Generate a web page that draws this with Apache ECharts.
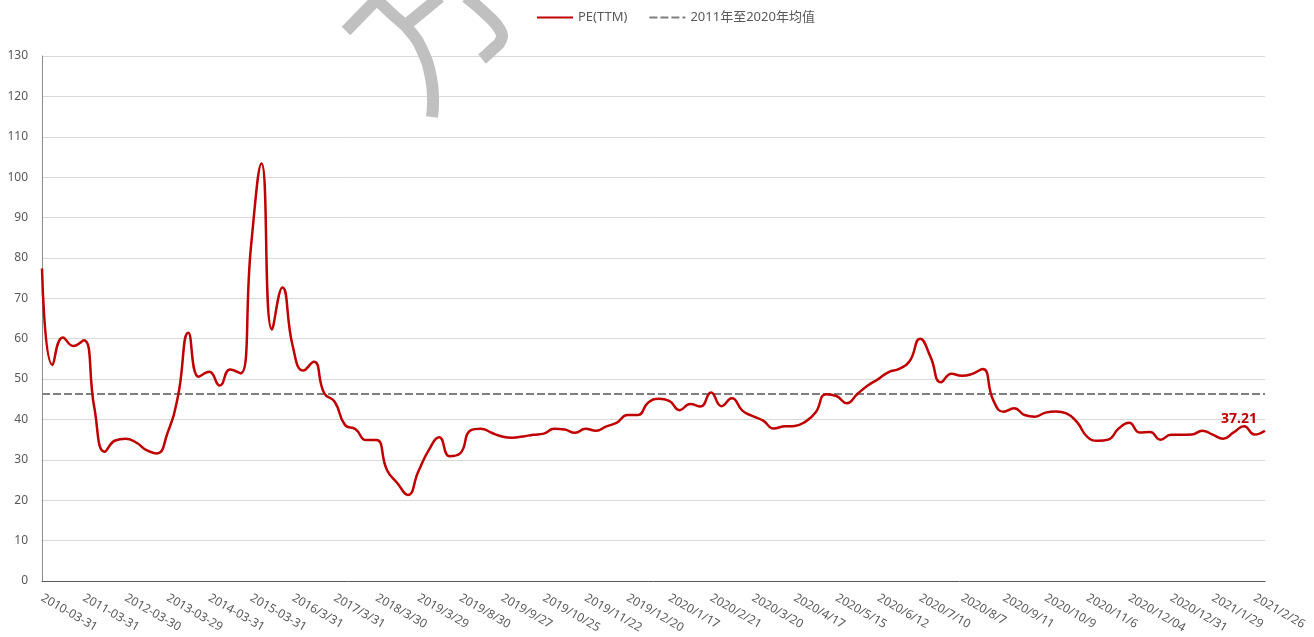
<!DOCTYPE html>
<html>
<head>
<meta charset="utf-8">
<script src="https://cdn.jsdelivr.net/npm/echarts@6/dist/echarts.min.js"></script>
<style>
html,body{margin:0;padding:0;background:#fff;}
#chart{width:1314px;height:637px;}
</style>
</head>
<body>
<div id="chart"></div>
<script>
const tickLabels = ['2010-03-31','2011-03-31','2012-03-30','2013-03-29','2014-03-31','2015-03-31','2016/3/31','2017/3/31','2018/3/30','2019/3/29','2019/8/30','2019/9/27','2019/10/25','2019/11/22','2019/12/20','2020/1/17','2020/2/21','2020/3/20','2020/4/17','2020/5/15','2020/6/12','2020/7/10','2020/8/7','2020/9/11','2020/10/9','2020/11/6','2020/12/04','2020/12/31','2021/1/29','2021/2/26'];

const peValues = [
77.4,53.5,60.3,58.2,59.6,43.0,32.0,34.8,35.2,34.3,
32.4,31.6,36.6,45.6,61.5,50.6,51.8,48.4,52.4,51.4,
83.0,103.4,62.3,72.7,58.0,52.1,54.3,46.5,44.4,38.6,
37.6,34.9,34.9,27.5,24.2,21.3,27.1,32.4,35.6,30.9,
31.6,37.3,37.7,36.7,35.8,35.5,35.8,36.2,36.5,37.7,
37.5,36.7,37.7,37.2,38.3,39.2,41.1,41.1,44.2,45.1,
44.6,42.3,43.8,43.2,46.7,43.3,45.25,42.2,40.8,39.7,
37.75,38.3,38.4,39.4,41.7,46.25,45.8,44.0,46.3,48.4,
50.0,51.75,52.5,54.4,60.0,55.5,49.2,51.3,50.8,51.3,
52.5,44.8,41.9,42.75,41.1,40.7,41.7,42.0,41.5,39.4,
35.7,34.7,35.0,37.75,39.2,36.8,36.9,35.0,36.2,36.2,
36.25,37.2,36.25,35.25,36.8,38.3,36.25,37.21
];

const meanValue = 46.3;
const seriesNames = ['PE(TTM)', '2011年至2020年均值'];

const categories = peValues.map((_, i) => i % 4 === 0 ? tickLabels[i / 4] : tickLabels[Math.floor(i / 4)] + ' +' + (i % 4));
const meanValues = peValues.map(() => meanValue);
const lastIdx = peValues.length - 1;

const chart = echarts.init(document.getElementById('chart'), null, {renderer: 'canvas'});
const font = "'Noto Sans', 'Noto Sans CJK SC', sans-serif";
const wm = '#c0c0c0';
chart.setOption({
  animation: false,
  backgroundColor: '#ffffff',
  textStyle: {fontFamily: font},
  legend: {
    top: 6,
    left: 531,
    itemWidth: 36,
    itemHeight: 12,
    itemGap: 21,
    itemStyle: {opacity: 0},
    textStyle: {color: '#595959', fontSize: 13, fontFamily: font},
    data: seriesNames
  },
  grid: {left: 42, right: 49, top: 56, bottom: 56, containLabel: false},
  xAxis: {
    type: 'category',
    boundaryGap: false,
    data: categories,
    axisTick: {show: false},
    axisLine: {lineStyle: {color: '#595959', width: 1}},
    axisLabel: {
      interval: 3,
      rotate: -30,
      margin: 16,
      color: '#595959',
      fontSize: 12,
      fontFamily: font
    },
    splitLine: {show: false}
  },
  yAxis: {
    type: 'value',
    min: 0,
    max: 130,
    interval: 10,
    axisLine: {show: true, lineStyle: {color: '#8c8c8c', width: 1}},
    axisTick: {show: false},
    axisLabel: {color: '#595959', fontSize: 12, margin: 14, fontFamily: font},
    splitLine: {lineStyle: {color: '#d9d9d9', width: 1}}
  },
  series: [
    {
      name: seriesNames[0],
      type: 'line',
      data: peValues,
      smooth: 0.5,
      symbol: 'none',
      lineStyle: {color: '#c00000', width: 2.5},
      itemStyle: {color: '#c00000'},
      z: 3,
      markPoint: {
        symbol: 'circle',
        symbolSize: 0,
        data: [{coord: [categories[lastIdx], peValues[lastIdx]], value: peValues[lastIdx]}],
        label: {
          show: true,
          position: 'top',
          offset: [-26, 0],
          color: '#c00000',
          fontSize: 14,
          fontWeight: 'bold',
          fontFamily: font,
          formatter: (p) => p.value.toFixed(2)
        }
      }
    },
    {
      name: seriesNames[1],
      type: 'line',
      data: meanValues,
      symbol: 'none',
      lineStyle: {color: '#7f7f7f', width: 2, type: [8, 3]},
      itemStyle: {color: '#7f7f7f'},
      z: 2
    }
  ],
  graphic: [
    {type: 'polyline', z: 10, shape: {points: [[346, 31], [379, -3]]}, style: {stroke: wm, lineWidth: 12, fill: null}},
    {type: 'polyline', z: 10, shape: {smooth: 0.5, points: [[374, -3], [392, 14], [410, 31], [423, 52], [431, 78], [433, 100], [432, 117]]}, style: {stroke: wm, lineWidth: 12, fill: null}},
    {type: 'polyline', z: 10, shape: {points: [[440, -3], [406, 25]]}, style: {stroke: wm, lineWidth: 12, fill: null}},
    {type: 'polyline', z: 10, shape: {smooth: 0.5, points: [[466, -3], [487, 15], [500, 30], [501, 40], [493, 49], [482, 59]]}, style: {stroke: wm, lineWidth: 12, fill: null}}
  ]
});
</script>
</body>
</html>
